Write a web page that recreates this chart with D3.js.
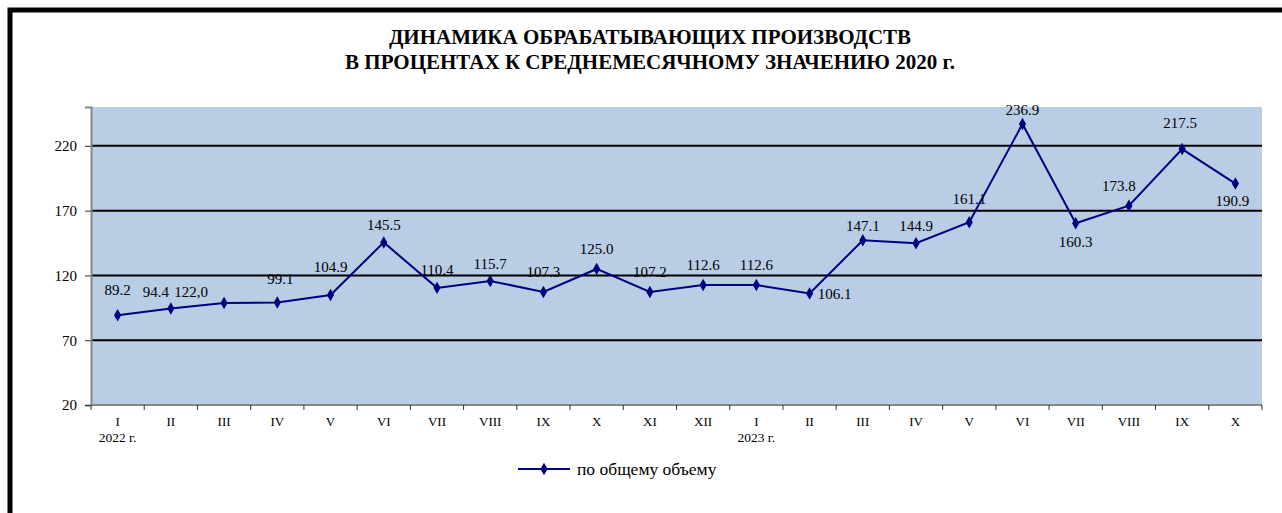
<!DOCTYPE html>
<html>
<head>
<meta charset="utf-8">
<script src="https://cdn.jsdelivr.net/npm/d3@7"></script>
<style>
  html, body { margin: 0; padding: 0; background: #fff; }
  svg text { font-family: "Liberation Serif", "Times New Roman", "DejaVu Serif", serif; fill: #000; }
</style>
</head>
<body>
<svg class="chart"></svg>
<script>
// data
var months = ["I", "II", "III", "IV", "V", "VI", "VII", "VIII", "IX", "X", "XI", "XII",
              "I", "II", "III", "IV", "V", "VI", "VII", "VIII", "IX", "X"];
var years = {0: "2022 г.", 12: "2023 г."};
var values = [89.2, 94.4, 98.8, 99.1, 104.9, 145.5, 110.4, 115.7, 107.3, 125.0, 107.2, 112.6,
              112.6, 106.1, 147.1, 144.9, 161.1, 236.9, 160.3, 173.8, 217.5, 190.9];
var labels = ["89.2", "94.4", "122,0", "99.1", "104.9", "145.5", "110.4", "115.7", "107.3", "125.0", "107.2", "112.6",
              "112.6", "106.1", "147.1", "144.9", "161.1", "236.9", "160.3", "173.8", "217.5", "190.9"];
var yTicks = [20, 70, 120, 170, 220];
var seriesName = "по общему объему";

// label placement (dx, dy from the point)
var labelPos = [[0, -26], [-15, -17], [-33, -11], [3, -24], [0, -28], [0, -18], [0, -18], [0, -17],
                [0, -20], [0, -20], [0, -20], [0, -20], [0, -20], [25, 0], [0, -15], [0, -17],
                [0, -23], [0, -14], [0, 19], [-10, -20], [-2, -26], [-3, 17]];

var W = 1282, H = 513;
var margin = {top: 107, left: 91, right: 20, bottom: 108};
var pw = 1262 - margin.left, ph = 405 - margin.top;

var svg = d3.select(".chart").attr("width", W).attr("height", H);

// outer frame
svg.append("rect")
    .attr("x", 10).attr("y", 10).attr("width", W + 20).attr("height", H + 20)
    .attr("fill", "none").attr("stroke", "#000").attr("stroke-width", 5);

// title
var title = svg.append("text")
    .attr("x", 650).attr("text-anchor", "middle")
    .style("font-weight", "bold").style("font-size", "21px");
title.append("tspan").attr("x", 650).attr("y", 44).text("ДИНАМИКА ОБРАБАТЫВАЮЩИХ ПРОИЗВОДСТВ");
title.append("tspan").attr("x", 650).attr("y", 69).text("В ПРОЦЕНТАХ К СРЕДНЕМЕСЯЧНОМУ ЗНАЧЕНИЮ 2020 г.");

var g = svg.append("g").attr("transform", "translate(" + margin.left + "," + margin.top + ")");

var x = d3.scaleBand().domain(d3.range(values.length)).range([0, pw]);
var y = d3.scaleLinear().domain([20, 250]).range([ph, 0]);

// plot background
g.append("rect").attr("width", pw).attr("height", ph).attr("fill", "#b9cde5");

// grid lines
g.selectAll(".grid")
    .data(yTicks.slice(1))
    .enter().append("line")
    .attr("x1", 0).attr("x2", pw)
    .attr("y1", function(d) { return y(d); }).attr("y2", function(d) { return y(d); })
    .attr("stroke", "#000").attr("stroke-width", 2);

// y axis
var yAxis = g.append("g")
    .call(d3.axisLeft(y).tickValues(yTicks).tickSize(6).tickPadding(8));
yAxis.attr("font-family", null);
yAxis.select(".domain").attr("stroke", "#868686").attr("stroke-width", 2);
yAxis.selectAll(".tick line").attr("stroke", "#333");
yAxis.selectAll("text").style("font-size", "15px");

// x axis
var xAxis = g.append("g").attr("transform", "translate(0," + ph + ")");
xAxis.append("line").attr("x1", 0).attr("x2", pw)
    .attr("stroke", "#868686").attr("stroke-width", 2);
xAxis.selectAll(".xt")
    .data(d3.range(values.length + 1))
    .enter().append("line")
    .attr("x1", function(i) { return i * x.step(); })
    .attr("x2", function(i) { return i * x.step(); })
    .attr("y1", 0).attr("y2", 5)
    .attr("stroke", "#333");
xAxis.selectAll(".xl")
    .data(months)
    .enter().append("text")
    .attr("x", function(d, i) { return x(i) + x.bandwidth() / 2; })
    .attr("y", 21)
    .attr("text-anchor", "middle")
    .style("font-size", "13px")
    .text(function(d) { return d; });
xAxis.selectAll(".yl")
    .data(Object.keys(years))
    .enter().append("text")
    .attr("x", function(k) { return x(+k) + x.bandwidth() / 2; })
    .attr("y", 37)
    .attr("text-anchor", "middle")
    .style("font-size", "13.5px")
    .text(function(k) { return years[k]; });

// series line
var cx = function(i) { return x(i) + x.bandwidth() / 2; };
var line = d3.line()
    .x(function(d, i) { return cx(i); })
    .y(function(d) { return y(d); });

g.append("path")
    .datum(values)
    .attr("d", line)
    .attr("fill", "none")
    .attr("stroke", "#000080")
    .attr("stroke-width", 2);

var diamond = d3.symbol().type(d3.symbolDiamond).size(45);
g.selectAll(".pt")
    .data(values)
    .enter().append("path")
    .attr("d", diamond)
    .attr("transform", function(d, i) { return "translate(" + cx(i) + "," + y(d) + ")"; })
    .attr("fill", "#000080");

// data labels
g.selectAll(".lbl")
    .data(values)
    .enter().append("text")
    .attr("x", function(d, i) { return cx(i) + labelPos[i][0]; })
    .attr("y", function(d, i) { return y(d) + labelPos[i][1]; })
    .attr("dy", "0.35em")
    .attr("text-anchor", "middle")
    .style("font-size", "15px")
    .text(function(d, i) { return labels[i]; });

// legend
var legend = svg.append("g").attr("transform", "translate(518,469)");
legend.append("line").attr("x1", 0).attr("x2", 52)
    .attr("stroke", "#000080").attr("stroke-width", 2);
legend.append("path").attr("d", diamond).attr("transform", "translate(26,0)").attr("fill", "#000080");
legend.append("text").attr("x", 59).attr("dy", "0.35em")
    .style("font-size", "17.5px").text(seriesName);
</script>
</body>
</html>
